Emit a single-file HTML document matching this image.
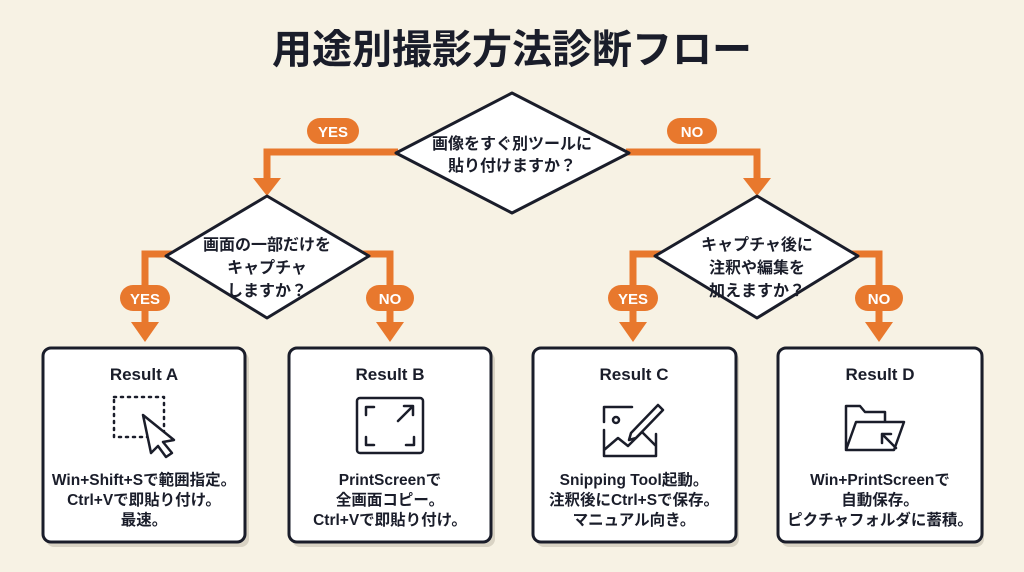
<!DOCTYPE html>
<html><head><meta charset="utf-8"><style>
html,body{margin:0;padding:0;background:#f7f2e4;}
svg{display:block}
text{font-family:"Liberation Sans","Noto Sans CJK JP",sans-serif;font-weight:bold;fill:#1a1d2a}
</style></head><body>
<svg width="1024" height="572" viewBox="0 0 1024 572" xmlns="http://www.w3.org/2000/svg">
<rect width="1024" height="572" fill="#f7f2e4"/>
<text x="512" y="63" font-size="40" text-anchor="middle">用途別撮影方法診断フロー</text>
<g stroke="#e8782d" stroke-width="7" fill="none">
<polyline points="398,152 267,152 267,182"/>
<polyline points="626,152 757,152 757,182"/>
<polyline points="172,254 145,254 145,325"/>
<polyline points="362,254 390,254 390,325"/>
<polyline points="662,254 633,254 633,325"/>
<polyline points="852,254 879,254 879,325"/>
</g>
<g fill="#e8782d">
<polygon points="253,178 281,178 267,196"/><polygon points="743,178 771,178 757,196"/>
<polygon points="131,322 159,322 145,342"/><polygon points="376,322 404,322 390,342"/>
<polygon points="619,322 647,322 633,342"/><polygon points="865,322 893,322 879,342"/>
<rect x="307" y="118" width="52" height="26" rx="13"/><rect x="667" y="118" width="50" height="26" rx="13"/>
<rect x="120" y="285" width="50" height="26" rx="13"/><rect x="366" y="285" width="48" height="26" rx="13"/>
<rect x="608" y="285" width="50" height="26" rx="13"/><rect x="855" y="285" width="48" height="26" rx="13"/>
</g>
<g font-size="15" text-anchor="middle">
<text x="333" y="137" style="fill:#fff">YES</text><text x="692" y="137" style="fill:#fff">NO</text>
<text x="145" y="304" style="fill:#fff">YES</text><text x="390" y="304" style="fill:#fff">NO</text>
<text x="633" y="304" style="fill:#fff">YES</text><text x="879" y="304" style="fill:#fff">NO</text>
</g>
<g stroke="#1a1d2a" stroke-width="3" fill="#fff" stroke-linejoin="round">
<polygon points="512,93 629,153 512,213 396,153"/>
<polygon points="267,196 369,256 267,318 166,256"/>
<polygon points="757,196 858,256 757,318 655,256"/>
</g>
<g font-size="16" text-anchor="middle">
<text x="512" y="149">画像をすぐ別ツールに</text><text x="512" y="171">貼り付けますか？</text>
<text x="267" y="250">画面の一部だけを</text><text x="267" y="273">キャプチャ</text><text x="267" y="296">しますか？</text>
<text x="757" y="250">キャプチャ後に</text><text x="757" y="273">注釈や編集を</text><text x="757" y="296">加えますか？</text>
</g>
<g fill="#d9d3c4"><rect x="46" y="352" width="203" height="195" rx="8"/><rect x="292" y="352" width="203" height="195" rx="8"/><rect x="536" y="352" width="203" height="195" rx="8"/><rect x="781" y="352" width="203" height="195" rx="8"/></g>
<g stroke="#1a1d2a" stroke-width="3" fill="#fff">
<rect x="43" y="348" width="202" height="194" rx="8"/><rect x="289" y="348" width="202" height="194" rx="8"/>
<rect x="533" y="348" width="203" height="194" rx="8"/><rect x="778" y="348" width="204" height="194" rx="8"/>
</g>
<g font-size="17" text-anchor="middle">
<text x="144" y="380">Result A</text><text x="390" y="380">Result B</text><text x="634" y="380">Result C</text><text x="880" y="380">Result D</text>
</g>
<g stroke="#1a1d2a" stroke-width="2.5" fill="none" stroke-linecap="round" stroke-linejoin="round">
<rect x="114" y="397" width="50" height="40" stroke-dasharray="2 5"/>
<polygon points="143,415 174,440 163,442 172,453 166,457 158,446 151,453" fill="#fff"/>
<rect x="357" y="398" width="66" height="55" rx="3"/>
<path d="M366 415v-8h8M366 437v8h8M414 437v8h-8M412 407l-14 14M404 406h9v9"/>
<path d="M604 422v-15h28M604 430v26h52v-22M604 450l14-12 10 8 14-14 14 14"/>
<circle cx="616" cy="420" r="3"/>
<path d="M631 433l27-28 5 5-27 28-7 2z"/>
<path d="M846 450v-44h14l5 6h20v10M846 450l10-28h48l-10 28z"/>
<path d="M882 434l14 14M882 434h9M882 434v9"/>
</g>
<g font-size="15.5" text-anchor="middle">
<text x="144" y="485">Win+Shift+Sで範囲指定。</text><text x="144" y="505">Ctrl+Vで即貼り付け。</text><text x="144" y="525">最速。</text>
<text x="390" y="485">PrintScreenで</text><text x="390" y="505">全画面コピー。</text><text x="390" y="525">Ctrl+Vで即貼り付け。</text>
<text x="634" y="485">Snipping Tool起動。</text><text x="634" y="505">注釈後にCtrl+Sで保存。</text><text x="634" y="525">マニュアル向き。</text>
<text x="880" y="485">Win+PrintScreenで</text><text x="880" y="505">自動保存。</text><text x="880" y="525">ピクチャフォルダに蓄積。</text>
</g>
</svg>
</body></html>
